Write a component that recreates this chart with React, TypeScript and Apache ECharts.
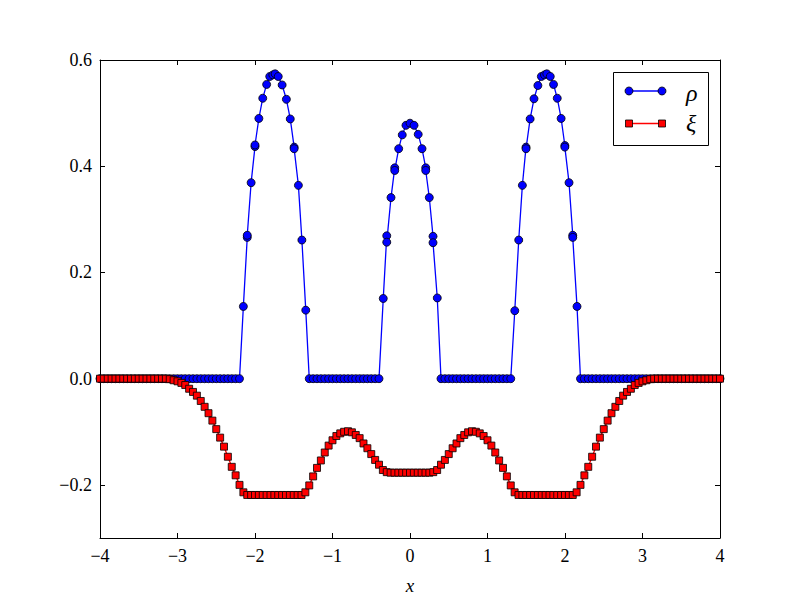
import React, { useEffect, useRef } from "react";
import * as echarts from "echarts";

const xTicks = [-4, -3, -2, -1, 0, 1, 2, 3, 4];
const yTicks = [-0.2, 0, 0.2, 0.4, 0.6];

// rho (blue circles): [x, y]
const rhoPoints: number[][] = [
  [-4, 0], [-3.95, 0], [-3.9, 0], [-3.85, 0], [-3.8, 0], [-3.75, 0], [-3.7, 0], [-3.65, 0], [-3.6, 0], [-3.55, 0],
  [-3.5, 0], [-3.45, 0], [-3.4, 0], [-3.35, 0], [-3.3, 0], [-3.25, 0], [-3.2, 0], [-3.15, 0], [-3.1, 0], [-3.05, 0],
  [-3, 0], [-2.95, 0], [-2.9, 0], [-2.85, 0], [-2.8, 0], [-2.75, 0], [-2.7, 0], [-2.65, 0], [-2.6, 0], [-2.55, 0],
  [-2.5, 0], [-2.45, 0], [-2.4, 0], [-2.35, 0], [-2.3, 0], [-2.25, 0], [-2.2, 0],
  [-2.15, 0.136], [-2.1, 0.266], [-2.1, 0.27], [-2.05, 0.369], [-2.0, 0.437], [-2.0, 0.44], [-1.95, 0.49],
  [-1.9, 0.528], [-1.85, 0.554], [-1.81, 0.569], [-1.77, 0.572], [-1.74, 0.574], [-1.7, 0.569], [-1.65, 0.553],
  [-1.595, 0.526], [-1.545, 0.489], [-1.495, 0.436], [-1.495, 0.433], [-1.44, 0.364], [-1.395, 0.261], [-1.345, 0.129],
  [-1.3, 0], [-1.25, 0], [-1.2, 0], [-1.15, 0], [-1.1, 0], [-1.05, 0], [-1, 0], [-0.95, 0], [-0.9, 0], [-0.85, 0],
  [-0.8, 0], [-0.75, 0], [-0.7, 0], [-0.65, 0], [-0.6, 0], [-0.55, 0], [-0.5, 0], [-0.45, 0], [-0.4, 0],
  [-0.345, 0.151], [-0.3, 0.269], [-0.3, 0.257], [-0.245, 0.341], [-0.197, 0.397], [-0.197, 0.392], [-0.146, 0.433],
  [-0.1, 0.459], [-0.052, 0.477], [0, 0.481], [0.052, 0.477], [0.106, 0.46], [0.155, 0.433], [0.203, 0.397],
  [0.203, 0.392], [0.249, 0.341], [0.297, 0.268], [0.297, 0.256], [0.352, 0.152],
  [0.4, 0], [0.45, 0], [0.5, 0], [0.55, 0], [0.6, 0], [0.65, 0], [0.7, 0], [0.75, 0], [0.8, 0], [0.85, 0],
  [0.9, 0], [0.95, 0], [1, 0], [1.05, 0], [1.1, 0], [1.15, 0], [1.2, 0], [1.25, 0], [1.3, 0],
  [1.352, 0.128], [1.403, 0.261], [1.45, 0.364], [1.497, 0.436], [1.497, 0.433], [1.55, 0.489], [1.6, 0.527],
  [1.65, 0.552], [1.695, 0.569], [1.735, 0.572], [1.765, 0.574], [1.81, 0.569], [1.852, 0.554], [1.9, 0.528],
  [1.95, 0.49], [1.998, 0.439], [1.998, 0.436], [2.052, 0.369], [2.1, 0.27], [2.1, 0.266], [2.155, 0.136],
  [2.2, 0], [2.25, 0], [2.3, 0], [2.35, 0], [2.4, 0], [2.45, 0], [2.5, 0], [2.55, 0], [2.6, 0], [2.65, 0],
  [2.7, 0], [2.75, 0], [2.8, 0], [2.85, 0], [2.9, 0], [2.95, 0], [3, 0], [3.05, 0], [3.1, 0], [3.15, 0],
  [3.2, 0], [3.25, 0], [3.3, 0], [3.35, 0], [3.4, 0], [3.45, 0], [3.5, 0], [3.55, 0], [3.6, 0], [3.65, 0],
  [3.7, 0], [3.75, 0], [3.8, 0], [3.85, 0], [3.9, 0], [3.95, 0], [4, 0],
];

// xi (red squares): [x, y]
const xiPoints: number[][] = [
  [-4, 0], [-3.95, 0], [-3.9, 0], [-3.85, 0], [-3.8, 0], [-3.75, 0], [-3.7, 0], [-3.65, 0], [-3.6, 0], [-3.55, 0],
  [-3.5, 0], [-3.45, 0], [-3.4, 0], [-3.35, 0], [-3.3, 0], [-3.25, 0], [-3.2, 0], [-3.15, 0],
  [-3.1, -0.001], [-3.05, -0.003], [-3, -0.005], [-2.95, -0.008], [-2.9, -0.012], [-2.85, -0.019], [-2.8, -0.025],
  [-2.75, -0.032], [-2.7, -0.042], [-2.65, -0.053], [-2.6, -0.065], [-2.55, -0.079], [-2.5, -0.095], [-2.45, -0.111],
  [-2.4, -0.128], [-2.35, -0.147], [-2.3, -0.166], [-2.25, -0.182], [-2.2, -0.2], [-2.15, -0.214], [-2.1, -0.219],
  [-2.05, -0.219], [-2, -0.219], [-1.95, -0.219], [-1.9, -0.219], [-1.85, -0.219], [-1.8, -0.219], [-1.75, -0.219],
  [-1.7, -0.219], [-1.65, -0.219], [-1.6, -0.219], [-1.55, -0.219], [-1.5, -0.219], [-1.45, -0.219], [-1.4, -0.219],
  [-1.35, -0.214], [-1.3, -0.201], [-1.25, -0.184], [-1.2, -0.168], [-1.15, -0.154], [-1.1, -0.139], [-1.05, -0.126],
  [-1, -0.116], [-0.95, -0.108], [-0.9, -0.103], [-0.85, -0.1], [-0.8, -0.099], [-0.75, -0.101], [-0.7, -0.106],
  [-0.65, -0.112], [-0.6, -0.122], [-0.55, -0.131], [-0.5, -0.142], [-0.45, -0.153], [-0.4, -0.162], [-0.35, -0.172],
  [-0.3, -0.176],
  [-0.25, -0.177], [-0.2, -0.177], [-0.15, -0.177], [-0.1, -0.177], [-0.05, -0.177], [0, -0.177], [0.05, -0.177],
  [0.1, -0.177], [0.15, -0.177], [0.2, -0.177], [0.25, -0.177],
  [0.3, -0.176], [0.35, -0.172], [0.4, -0.162], [0.45, -0.153], [0.5, -0.142], [0.55, -0.131], [0.6, -0.122],
  [0.65, -0.112], [0.7, -0.106], [0.75, -0.101], [0.8, -0.099], [0.85, -0.1], [0.9, -0.103], [0.95, -0.108],
  [1, -0.116], [1.05, -0.126], [1.1, -0.139], [1.15, -0.154], [1.2, -0.168], [1.25, -0.184], [1.3, -0.201],
  [1.35, -0.214], [1.4, -0.219], [1.45, -0.219], [1.5, -0.219], [1.55, -0.219], [1.6, -0.219], [1.65, -0.219],
  [1.7, -0.219], [1.75, -0.219], [1.8, -0.219], [1.85, -0.219], [1.9, -0.219], [1.95, -0.219], [2, -0.219],
  [2.05, -0.219], [2.1, -0.219], [2.15, -0.214], [2.2, -0.2], [2.25, -0.182], [2.3, -0.166], [2.35, -0.147],
  [2.4, -0.128], [2.45, -0.111], [2.5, -0.095], [2.55, -0.079], [2.6, -0.065], [2.65, -0.053], [2.7, -0.042],
  [2.75, -0.032], [2.8, -0.025], [2.85, -0.019], [2.9, -0.012], [2.95, -0.008], [3, -0.005], [3.05, -0.003],
  [3.1, -0.001], [3.15, 0], [3.2, 0], [3.25, 0], [3.3, 0], [3.35, 0], [3.4, 0], [3.45, 0], [3.5, 0], [3.55, 0],
  [3.6, 0], [3.65, 0], [3.7, 0], [3.75, 0], [3.8, 0], [3.85, 0], [3.9, 0], [3.95, 0], [4, 0],
];

const seriesNames = ["ρ", "ξ"];

const FONT = "Liberation Serif";
const fmtMinus = (s: string) => s.replace("-", "\u2212");

export default function App() {
  const ref = useRef<HTMLDivElement>(null);
  useEffect(() => {
    if (!ref.current) return;
    const chart = echarts.init(ref.current, null, { renderer: "svg" });
    const tickStyle = { show: true, inside: true, length: 5, lineStyle: { color: "#000", width: 1 } };
    const axisLine = { show: true, onZero: false, lineStyle: { color: "#000", width: 1 } };
    chart.setOption({
      animation: false,
      backgroundColor: "#fff",
      textStyle: { fontFamily: FONT },
      grid: { left: 100, top: 60, width: 620, height: 480, containLabel: false },
      xAxis: [
        {
          type: "value", min: -4, max: 4, interval: 1, position: "bottom",
          axisLine, splitLine: { show: false },
          axisTick: { ...tickStyle, customValues: xTicks },
          axisLabel: {
            customValues: xTicks, margin: 9, color: "#000", fontFamily: FONT, fontSize: 18,
            formatter: (v: number) => fmtMinus(String(v)),
          },
          name: "x", nameLocation: "middle", nameGap: 38,
          nameTextStyle: { color: "#000", fontFamily: FONT, fontStyle: "italic", fontSize: 19 },
        },
        {
          type: "value", min: -4, max: 4, interval: 1, position: "top",
          axisLine, splitLine: { show: false },
          axisTick: { ...tickStyle, customValues: xTicks },
          axisLabel: { show: false },
        },
      ],
      yAxis: [
        {
          type: "value", min: -0.3, max: 0.6, position: "left",
          axisLine, splitLine: { show: false },
          axisTick: { ...tickStyle, customValues: yTicks },
          axisLabel: {
            customValues: yTicks, margin: 8, color: "#000", fontFamily: FONT, fontSize: 18,
            formatter: (v: number) => fmtMinus(v.toFixed(1)),
          },
        },
        {
          type: "value", min: -0.3, max: 0.6, position: "right",
          axisLine, splitLine: { show: false },
          axisTick: { ...tickStyle, customValues: yTicks },
          axisLabel: { show: false },
        },
      ],
      series: [
        {
          name: seriesNames[0], type: "line", xAxisIndex: 0, yAxisIndex: 0,
          data: rhoPoints, symbol: "circle", symbolSize: 8, showAllSymbol: true, clip: true,
          lineStyle: { color: "#0000ff", width: 1.3 },
          itemStyle: { color: "#0000ff", borderColor: "#000", borderWidth: 0.8 },
          z: 2,
        },
        {
          name: seriesNames[1], type: "line", xAxisIndex: 0, yAxisIndex: 0,
          data: xiPoints, symbol: "rect", symbolSize: 7, showAllSymbol: true, clip: true,
          lineStyle: { color: "#ff0000", width: 1.3 },
          itemStyle: { color: "#ff0000", borderColor: "#000", borderWidth: 0.8 },
          z: 3,
        },
      ],
      graphic: [
        {
          type: "group", z: 100,
          children: [
            { type: "rect", shape: { x: 613.5, y: 72.5, width: 95, height: 73 }, style: { fill: "#fff", stroke: "#000", lineWidth: 1 } },
            { type: "line", shape: { x1: 629, y1: 91, x2: 662, y2: 91 }, style: { stroke: "#0000ff", lineWidth: 1.3 } },
            { type: "circle", shape: { cx: 629, cy: 91, r: 4 }, style: { fill: "#0000ff", stroke: "#000", lineWidth: 0.8 } },
            { type: "circle", shape: { cx: 662, cy: 91, r: 4 }, style: { fill: "#0000ff", stroke: "#000", lineWidth: 0.8 } },
            { type: "text", x: 686, y: 93, style: { text: seriesNames[0], fontFamily: FONT, fontStyle: "italic", fontSize: 24, fill: "#000", verticalAlign: "middle", align: "left" } },
            { type: "line", shape: { x1: 629, y1: 123.5, x2: 662, y2: 123.5 }, style: { stroke: "#ff0000", lineWidth: 1.3 } },
            { type: "rect", shape: { x: 625.5, y: 120, width: 7, height: 7 }, style: { fill: "#ff0000", stroke: "#000", lineWidth: 0.8 } },
            { type: "rect", shape: { x: 658.5, y: 120, width: 7, height: 7 }, style: { fill: "#ff0000", stroke: "#000", lineWidth: 0.8 } },
            { type: "text", x: 686, y: 123, style: { text: seriesNames[1], fontFamily: FONT, fontStyle: "italic", fontSize: 24, fill: "#000", verticalAlign: "middle", align: "left" } },
          ],
        },
      ],
    });
    return () => chart.dispose();
  }, []);
  return <div ref={ref} style={{ position: "fixed", left: 0, top: 0, width: 800, height: 600 }} />;
}
